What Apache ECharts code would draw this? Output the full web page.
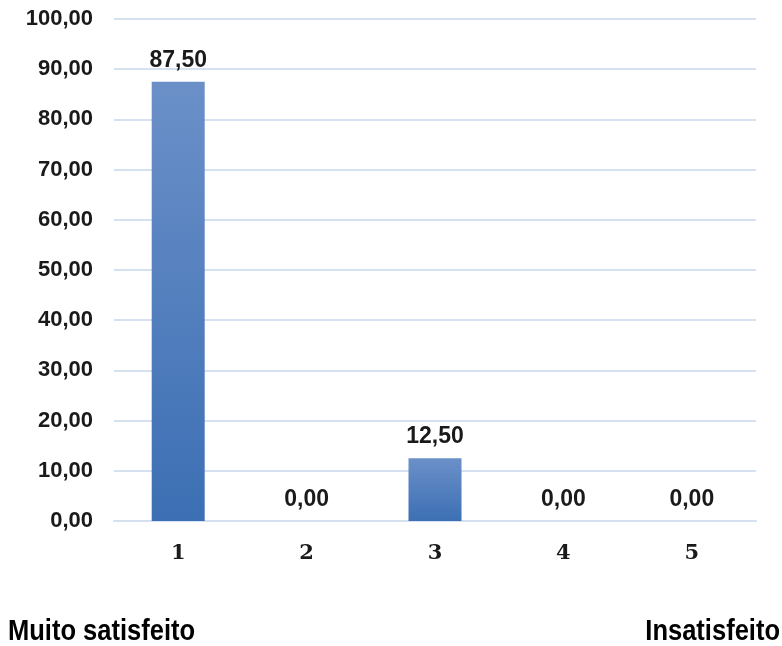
<!DOCTYPE html>
<html><head><meta charset="utf-8">
<script src="https://cdn.jsdelivr.net/npm/echarts@6/dist/echarts.min.js"></script>
<style>html,body{margin:0;padding:0;background:#fff}#c{width:782px;height:646px}</style>
</head><body><div id="c"></div>
<script>
var categories = ['1','2','3','4','5'];
var values = [87.5, 0, 12.5, 0, 0];
var yMin = 0, yMax = 100, yInterval = 10;
var leftNote = 'Muito satisfeito';
var rightNote = 'Insatisfeito';

function fmt(v){ return Number(v).toFixed(2).replace('.', ','); }

var chart = echarts.init(document.getElementById('c'));
chart.setOption({
  animation:false,
  backgroundColor:'#fff',
  grid:{left:114, right:26, top:19, bottom:125},
  xAxis:{
    type:'category', data:categories,
    axisLine:{show:true, lineStyle:{color:'#d5e0f0', width:2}},
    axisTick:{show:false},
    axisLabel:{margin:22, fontFamily:'DejaVu Serif', fontWeight:'bold', fontSize:21, color:'#1a1a1a'}
  },
  yAxis:{
    type:'value', min:yMin, max:yMax, interval:yInterval,
    axisLine:{show:false}, axisTick:{show:false},
    splitLine:{lineStyle:{color:'#d5e0f0', width:2}},
    axisLabel:{margin:21, formatter:fmt, fontFamily:'Liberation Sans', fontWeight:'bold', fontSize:22, color:'#1a1a1a'}
  },
  series:[{
    type:'bar', data:values, barWidth:53,
    itemStyle:{color:new echarts.graphic.LinearGradient(0,0,0,1,[{offset:0,color:'#6b90c8'},{offset:1,color:'#3c6fb4'}])},
    label:{show:true, position:'top', distance:10, formatter:function(p){return fmt(p.value);},
      fontFamily:'Liberation Sans', fontWeight:'bold', fontSize:23, color:'#1a1a1a'}
  }],
  graphic:[
    {type:'text', x:8, y:617, scaleX:0.88,
      style:{text:leftNote, font:'bold 29px "Liberation Sans"', fill:'#000', align:'left', verticalAlign:'top'}},
    {type:'text', x:780, y:617, scaleX:0.88,
      style:{text:rightNote, font:'bold 29px "Liberation Sans"', fill:'#000', align:'right', verticalAlign:'top'}}
  ]
});
</script></body></html>
